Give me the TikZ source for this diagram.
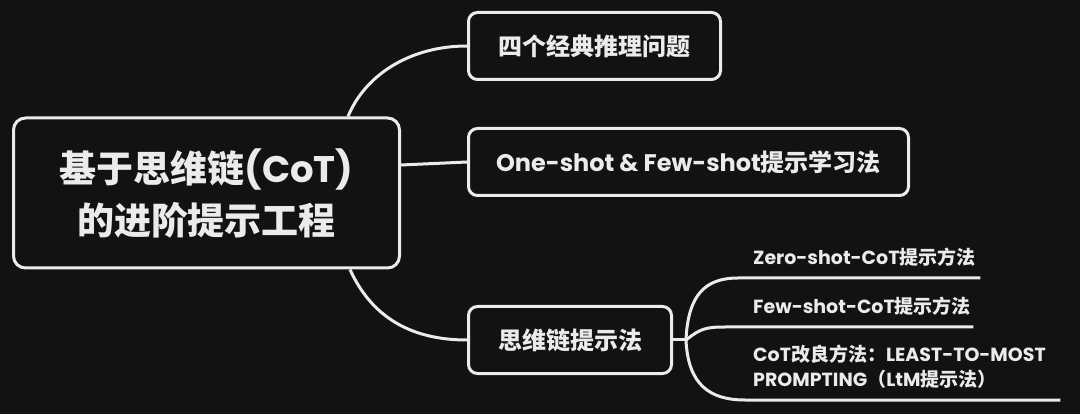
\documentclass[tikz,border=0pt]{standalone}
\usepackage{fontspec}
\setmainfont{Poppins}
\newfontfamily\zhfont{Noto Sans CJK SC}
\newcommand{\zh}[1]{{\zhfont #1}}
\definecolor{bg}{HTML}{121212}
\definecolor{ink}{HTML}{EBEBEB}

\tikzset{
	topic/.style={draw=ink, line width=3pt, rounded corners=9pt, text=ink, inner sep=0pt, anchor=west, minimum height=67pt, font=\bfseries\fontsize{24}{30}\selectfont},
	branch/.style={ink, line width=3pt},
	leaf/.style={text=ink, anchor=south west, inner xsep=0pt, inner ysep=11pt, align=left, font=\bfseries\fontsize{19}{25}\selectfont},
}

\begin{document}
\begin{tikzpicture}[x=1pt,y=-1pt]
	\fill[bg] (0,0) rectangle (1080,414);
	% main topic and its three branches
	\node[topic, rounded corners=12pt, minimum width=386pt, minimum height=150pt, align=center, font=\bfseries\fontsize{37}{52}\selectfont] (root) at (12,193) {\zh{基于思维链}(CoT)\\\zh{的进阶提示工程}};
	\node[topic, minimum width=252pt] (classic) at (467,46) {\zh{四个经典推理问题}};
	\node[topic, minimum width=440pt] (shots) at (467,162) {One-shot \& Few-shot\zh{提示学习法}};
	\node[topic, minimum width=203pt] (cotway) at (467,340) {\zh{思维链提示法}};
	\draw[branch] ([xshift=-53pt]root.north east) .. controls (365,75) and (410,46) .. (classic.west);
	\draw[branch] ([yshift=28pt]root.east) -- (shots.west);
	\draw[branch] ([xshift=-51pt]root.south east) .. controls (372,318) and (412,340) .. (cotway.west);
	% sub topics
	\coordinate (fork) at (686,340);
	\node[leaf, text width=227pt] (zero) at (753,278) {Zero-shot-CoT\zh{提示方法}};
	\node[leaf, text width=220pt] (few) at (753,327) {Few-shot-CoT\zh{提示方法}};
	\node[leaf, text width=307pt] (ltm) at (753,400) {CoT\zh{改良方法：}LEAST-TO-MOST\\PROMPTING\zh{（}LtM\zh{提示法）}};
	\draw[branch] (cotway.east) -- (fork);
	\draw[branch] (fork) .. controls (688,295) and (705,278) .. ([xshift=-15pt]zero.south west) -- (zero.south east);
	\draw[branch] (fork) .. controls (700,329) and (705,327) .. ([xshift=-28pt]few.south west) -- (few.south east);
	\draw[branch] (fork) .. controls (688,385) and (710,400) .. ([xshift=-8pt]ltm.south west) -- (ltm.south east);
\end{tikzpicture}
\end{document}
